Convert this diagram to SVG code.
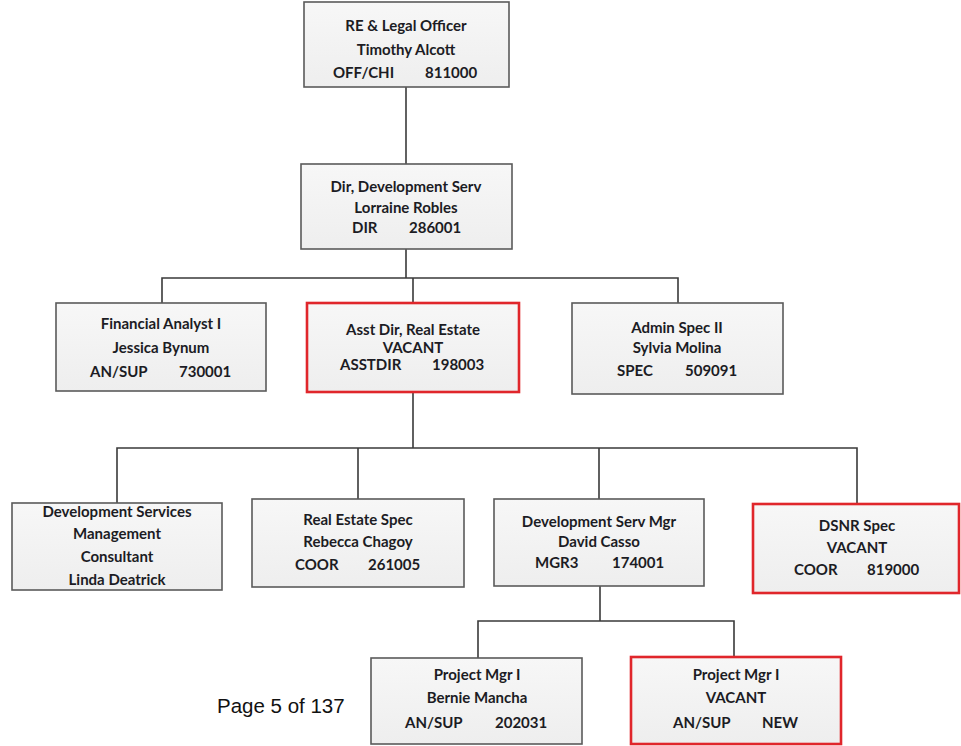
<svg xmlns="http://www.w3.org/2000/svg" width="961" height="746" viewBox="0 0 961 746">
<defs>
<linearGradient id="g" x1="0" y1="0" x2="0" y2="1">
<stop offset="0" stop-color="#f7f7f7"/>
<stop offset="1" stop-color="#eeeeee"/>
</linearGradient>
</defs>
<style>
.box{fill:url(#g);stroke:#5a5a5a;stroke-width:1.6}
.red{fill:url(#g);stroke:#e0262b;stroke-width:2.6}
.t{font-family:Lato,"Liberation Sans",sans-serif;font-weight:bold;font-size:15px;fill:#1c1c24;text-anchor:middle}
.c{font-family:Lato,"Liberation Sans",sans-serif;font-weight:bold;font-size:15px;fill:#1c1c24}
.ln{fill:none;stroke:#3a3a3a;stroke-width:1.6}
.pg{font-family:"Liberation Sans",Arial,sans-serif;font-size:20.5px;fill:#111}
</style>
<rect width="961" height="746" fill="#ffffff"/>
<g id="connectors">
<path class="ln" d="M406,87V164"/>
<path class="ln" d="M406,249V278M162,303V278H678V303M413,278V303"/>
<path class="ln" d="M413,392V448M117,503V448H857V504M358,448V499M599,448V499"/>
<path class="ln" d="M600,586V621M478,658V621H734V657"/>
</g>
<g id="n1">
<rect class="box" x="304" y="2" width="205" height="85"/>
<text class="t" x="406" y="31">RE &amp; Legal Officer</text>
<text class="t" x="406" y="55">Timothy Alcott</text>
<text class="c" x="333" y="78">OFF/CHI</text>
<text class="c" x="425" y="78">811000</text>
</g>
<g id="n2">
<rect class="box" x="301" y="164" width="211" height="85"/>
<text class="t" x="406" y="192">Dir, Development Serv</text>
<text class="t" x="406" y="213">Lorraine Robles</text>
<text class="c" x="352" y="233">DIR</text>
<text class="c" x="409" y="233">286001</text>
</g>
<g id="n3">
<rect class="box" x="56" y="303" width="210" height="88"/>
<text class="t" x="161" y="329">Financial Analyst I</text>
<text class="t" x="161" y="353">Jessica Bynum</text>
<text class="c" x="90" y="377">AN/SUP</text>
<text class="c" x="179" y="377">730001</text>
</g>
<g id="n4">
<rect class="red" x="307" y="303" width="212" height="89"/>
<text class="t" x="413" y="335">Asst Dir, Real Estate</text>
<text class="t" x="413" y="353">VACANT</text>
<text class="c" x="340" y="370">ASSTDIR</text>
<text class="c" x="432" y="370">198003</text>
</g>
<g id="n5">
<rect class="box" x="572" y="303" width="211" height="91"/>
<text class="t" x="677" y="333">Admin Spec II</text>
<text class="t" x="677" y="353">Sylvia Molina</text>
<text class="c" x="617" y="376">SPEC</text>
<text class="c" x="685" y="376">509091</text>
</g>
<g id="n6">
<rect class="box" x="12" y="503" width="210" height="87"/>
<text class="t" x="117" y="517">Development Services</text>
<text class="t" x="117" y="539">Management</text>
<text class="t" x="117" y="562">Consultant</text>
<text class="t" x="117" y="585">Linda Deatrick</text>
</g>
<g id="n7">
<rect class="box" x="252" y="499" width="212" height="88"/>
<text class="t" x="358" y="525">Real Estate Spec</text>
<text class="t" x="358" y="547">Rebecca Chagoy</text>
<text class="c" x="295" y="570">COOR</text>
<text class="c" x="368" y="570">261005</text>
</g>
<g id="n8">
<rect class="box" x="494" y="499" width="210" height="87"/>
<text class="t" x="599" y="527">Development Serv Mgr</text>
<text class="t" x="599" y="547">David Casso</text>
<text class="c" x="535" y="568">MGR3</text>
<text class="c" x="612" y="568">174001</text>
</g>
<g id="n9">
<rect class="red" x="753" y="504" width="206" height="89"/>
<text class="t" x="857" y="531">DSNR Spec</text>
<text class="t" x="857" y="553">VACANT</text>
<text class="c" x="794" y="575">COOR</text>
<text class="c" x="867" y="575">819000</text>
</g>
<g id="n10">
<rect class="box" x="371" y="658" width="211" height="86"/>
<text class="t" x="477" y="680">Project Mgr I</text>
<text class="t" x="477" y="703">Bernie Mancha</text>
<text class="c" x="405" y="728">AN/SUP</text>
<text class="c" x="495" y="728">202031</text>
</g>
<g id="n11">
<rect class="red" x="631" y="657" width="210" height="87"/>
<text class="t" x="736" y="680">Project Mgr I</text>
<text class="t" x="736" y="703">VACANT</text>
<text class="c" x="673" y="728">AN/SUP</text>
<text class="c" x="762" y="728">NEW</text>
</g>
<text class="pg" x="217" y="713">Page 5 of 137</text>
</svg>
